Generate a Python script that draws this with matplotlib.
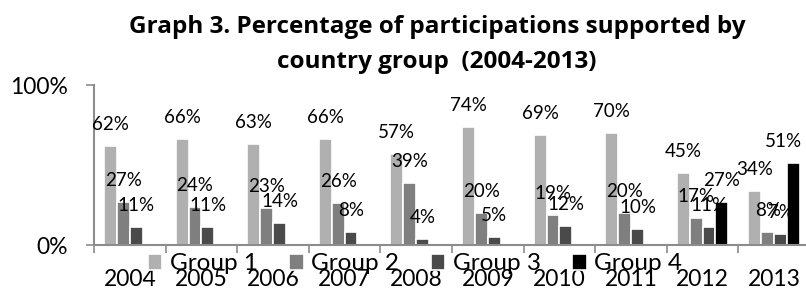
import numpy as np
import matplotlib.pyplot as plt

plt.rcParams['font.family'] = ['Lato', 'DejaVu Sans']

# data
years = ['2004', '2005', '2006', '2007', '2008',
         '2009', '2010', '2011', '2012', '2013']
group1 = [62, 66, 63, 66, 57, 74, 69, 70, 45, 34]
group2 = [27, 24, 23, 26, 39, 20, 19, 20, 17, 8]
group3 = [11, 11, 14, 8, 4, 5, 12, 10, 11, 7]
group4 = [0, 0, 0, 0, 0, 0, 0, 0, 27, 51]
series_names = ['Group 1', 'Group 2', 'Group 3', 'Group 4']
series_colors = ['#b0b0b0', '#7f7f7f', '#4a4a4a', '#000000']


def main():
    fig = plt.figure(figsize=(8.06, 2.91), dpi=100)
    W, H = 806.0, 291.0
    ax = fig.add_axes([94 / W, (H - 245) / H, (810 - 94) / W, 160 / H])

    x = np.arange(len(years)) + 0.5
    width = 0.18
    series = [group1, group2, group3, group4]
    for i, (vals, name, col) in enumerate(zip(series, series_names, series_colors)):
        pos = x + (i - 1.5) * width
        v = np.array(vals) / 100.0
        mask = v > 0
        ax.bar(pos[mask], v[mask], width, color=col, edgecolor='white',
               linewidth=1.2, label=name, zorder=2)
        for px, py in zip(pos[mask], v[mask]):
            # keep the right-most label inside the chart, like the original
            if px > len(years) - 0.3:
                ha, dx = 'right', 6
            else:
                ha, dx = 'center', 0
            ax.annotate(f'{int(round(py * 100))}%', (px, py),
                        xytext=(dx, 11.5), textcoords='offset points',
                        ha=ha, va='baseline', fontsize=13.5,
                        annotation_clip=False)

    ax.set_xlim(0, len(years))
    ax.set_ylim(0, 1.0)

    # ticks at category boundaries, labels at centres
    ax.set_xticks(np.arange(len(years) + 1))
    ax.set_xticklabels([])
    ax.set_xticks(x, minor=True)
    ax.set_xticklabels(years, minor=True, fontsize=16.5)
    ax.tick_params(axis='x', which='major', direction='out', length=5.5,
                   width=1.2, color='#8c8c8c')
    ax.tick_params(axis='x', which='minor', length=0, pad=17.5)

    ax.set_yticks([0, 1.0])
    ax.set_yticklabels(['0%', '100%'], fontsize=16.5)
    ax.tick_params(axis='y', direction='out', length=5.5, width=1.2,
                   color='#8c8c8c', pad=13)

    for s in ['top', 'right']:
        ax.spines[s].set_visible(False)
    for s in ['left', 'bottom']:
        ax.spines[s].set_color('#8c8c8c')
        ax.spines[s].set_linewidth(1.5)
    ax.set_facecolor('none')

    title_font = ['Open Sans', 'DejaVu Sans']
    fig.text(437 / W, 1 - 33 / H,
             'Graph 3. Percentage of participations supported by',
             ha='center', va='baseline', fontsize=17.5, fontweight='bold',
             family=title_font)
    fig.text(437 / W, 1 - 68 / H, 'country group  (2004-2013)',
             ha='center', va='baseline', fontsize=17.5, fontweight='bold',
             family=title_font)

    fig.legend(loc='center', bbox_to_anchor=(415 / W, 1 - 264 / H),
               ncol=4, frameon=False, fontsize=17.5, handlelength=0.6,
               handleheight=0.6, handletextpad=0.3, columnspacing=1.3,
               borderpad=0, borderaxespad=0)

    fig.savefig('out.png', dpi=100)


if __name__ == '__main__':
    main()
